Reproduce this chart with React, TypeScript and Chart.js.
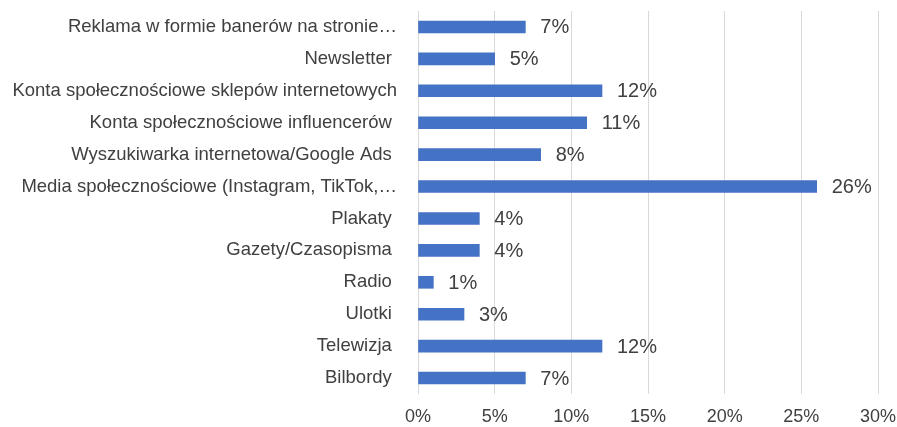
import React, { useEffect, useRef } from "react";
import { Chart, registerables } from "chart.js";

Chart.register(...registerables);

const categories = [
  "Reklama w formie banerów na stronie…",
  "Newsletter ",
  "Konta społecznościowe sklepów internetowych",
  "Konta społecznościowe influencerów ",
  "Wyszukiwarka internetowa/Google Ads ",
  "Media społecznościowe (Instagram, TikTok,…",
  "Plakaty ",
  "Gazety/Czasopisma ",
  "Radio ",
  "Ulotki ",
  "Telewizja ",
  "Bilbordy ",
];
const values = [7, 5, 12, 11, 8, 26, 4, 4, 1, 3, 12, 7];
const xMin = 0;
const xMax = 30;
const xStep = 5;

const FONT = "'Liberation Sans', Arial, sans-serif";
const TEXT = "#404040";

const dataLabels = {
  id: "dataLabels",
  afterDatasetsDraw(chart: any) {
    const ctx = chart.ctx;
    const meta = chart.getDatasetMeta(0);
    ctx.save();
    ctx.font = `20px ${FONT}`;
    ctx.fillStyle = TEXT;
    ctx.textAlign = "left";
    ctx.textBaseline = "middle";
    meta.data.forEach((bar: any, i: number) => {
      const v = chart.data.datasets[0].data[i];
      ctx.fillText(`${v}%`, bar.x + 15, bar.y + 1);
    });
    ctx.restore();
  },
};

export default function App() {
  const ref = useRef<HTMLCanvasElement | null>(null);
  useEffect(() => {
    if (!ref.current) return;
    const chart = new Chart(ref.current, {
      type: "bar",
      data: {
        labels: categories,
        datasets: [
          {
            data: values,
            backgroundColor: "#4472C4",
            barThickness: 12,
          },
        ],
      },
      options: {
        indexAxis: "y",
        animation: false,
        responsive: false,
        devicePixelRatio: 1,
        layout: { padding: { top: 11, right: 19, bottom: 0, left: 0 } },
        plugins: {
          legend: { display: false },
          tooltip: { enabled: false },
        },
        scales: {
          x: {
            min: xMin,
            max: xMax,
            grid: { color: "#d9d9d9", lineWidth: 1, drawTicks: false },
            border: { display: false },
            ticks: {
              stepSize: xStep,
              padding: 14,
              color: TEXT,
              font: { family: FONT, size: 18, lineHeight: 1 },
              callback: (v: any) => `${v}%`,
            },
            afterFit: (s: any) => {
              s.height = 33;
              s.paddingLeft = 0;
              s.paddingRight = 0;
            },
          },
          y: {
            grid: { display: false, drawTicks: false },
            border: { display: false },
            ticks: {
              padding: 21,
              color: TEXT,
              font: { family: FONT, size: 18.5 },
              autoSkip: false,
            },
            afterFit: (s: any) => {
              s.width = 418;
              s.paddingTop = 0;
              s.paddingBottom = 0;
            },
          },
        },
      },
      plugins: [dataLabels],
    });
    return () => chart.destroy();
  }, []);
  return (
    <div style={{ position: "fixed", left: 0, top: 0, width: 897, height: 427, background: "#fff" }}>
      <canvas ref={ref} width={897} height={427} style={{ width: 897, height: 427 }} />
    </div>
  );
}
